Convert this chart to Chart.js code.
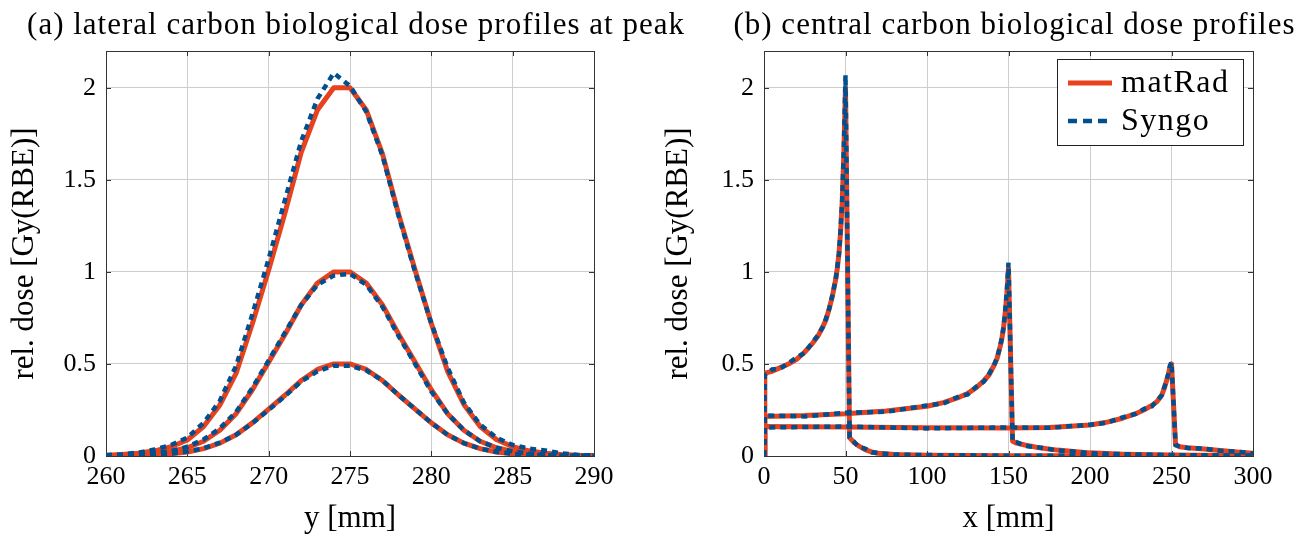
<!DOCTYPE html>
<html>
<head>
<meta charset="utf-8">
<script src="https://cdn.jsdelivr.net/npm/chart.js@4.4.0/dist/chart.umd.min.js"></script>
<style>
  html, body { margin: 0; padding: 0; background: #fff; }
  #wrap { position: relative; width: 1308px; height: 539px; overflow: hidden; }
  canvas { display: block; position: absolute; top: 0; }
  #lateralChart { left: 0; }
  #centralChart { left: 654px; }
</style>
</head>
<body>
<div id="wrap">
  <canvas id="lateralChart" width="720" height="539"></canvas>
  <canvas id="centralChart" width="654" height="539"></canvas>
</div>
<script>
// ---- lateral profiles (a), y [mm]
const latX = [260,261,262,263,264,265,266,267,268,269,270,271,272,273,274,275,276,277,278,279,280,281,282,283,284,285,286,287,288,289,290];
const latMatRad2 = [0.004,0.008,0.015,0.028,0.05,0.087,0.16,0.277,0.45,0.72,1.01,1.32,1.65,1.88,2.0,2.0,1.88,1.64,1.31,1.01,0.72,0.46,0.28,0.16,0.09,0.05,0.028,0.015,0.008,0.004,0.002];
const latMatRad1 = [0.002,0.004,0.008,0.014,0.025,0.045,0.08,0.14,0.23,0.36,0.51,0.66,0.82,0.94,1.0,1.0,0.94,0.82,0.66,0.51,0.36,0.23,0.14,0.08,0.045,0.025,0.014,0.008,0.004,0.002,0.001];
const latMatRad05 = [0.001,0.002,0.004,0.007,0.012,0.022,0.04,0.07,0.115,0.18,0.255,0.33,0.41,0.47,0.5,0.5,0.47,0.41,0.33,0.255,0.18,0.115,0.07,0.04,0.022,0.012,0.007,0.004,0.002,0.001,0.001];
const latSyngo2 = [0.004,0.01,0.018,0.035,0.06,0.1,0.18,0.3,0.49,0.77,1.07,1.39,1.71,1.94,2.08,2.01,1.87,1.63,1.3,1.0,0.72,0.48,0.29,0.17,0.1,0.06,0.04,0.03,0.015,0.006,0.003];
const latSyngo1 = [0.002,0.004,0.008,0.015,0.027,0.05,0.09,0.15,0.24,0.37,0.52,0.67,0.82,0.93,0.98,0.99,0.93,0.81,0.65,0.5,0.35,0.23,0.14,0.08,0.045,0.025,0.014,0.008,0.004,0.002,0.001];
const latSyngo05 = [0.001,0.002,0.004,0.007,0.013,0.024,0.042,0.072,0.115,0.178,0.25,0.325,0.405,0.46,0.49,0.49,0.465,0.41,0.33,0.255,0.18,0.115,0.07,0.04,0.022,0.012,0.007,0.004,0.002,0.001,0.001];
const latXTicks = [260,265,270,275,280,285,290];

// ---- central depth profiles (b), x [mm]
const depA_X = [0,0.5,5,10,15,20,25,30,33,36,38,40,42,44,45,46,47,48,49,50,52.5,55,58,62,66,70,80,100,150,200,250,300];
const depA_MatRad = [0,0.45,0.46,0.48,0.5,0.525,0.565,0.615,0.65,0.7,0.74,0.8,0.87,0.96,1.02,1.1,1.22,1.38,1.65,2.0,0.1,0.075,0.055,0.035,0.022,0.015,0.008,0.004,0.002,0.001,0.001,0.001];
const depA_Syngo = [0,0.44,0.47,0.475,0.505,0.535,0.56,0.62,0.655,0.7,0.745,0.8,0.875,0.96,1.03,1.1,1.23,1.4,1.68,2.07,0.1,0.08,0.05,0.04,0.02,0.016,0.008,0.005,0.002,0.001,0.001,0.001];
const depB_X = [0,0.5,25,50,75,100,110,120,125,130,135,138,141,143,145,146,147,148,149,150,152.5,155,160,170,180,190,200,220,250,300];
const depB_MatRad = [0,0.215,0.22,0.23,0.245,0.27,0.29,0.32,0.34,0.37,0.41,0.44,0.49,0.53,0.6,0.64,0.7,0.78,0.88,1.02,0.08,0.07,0.06,0.043,0.032,0.024,0.017,0.01,0.005,0.002];
const depB_Syngo = [0,0.22,0.215,0.235,0.24,0.275,0.285,0.325,0.335,0.375,0.405,0.445,0.49,0.535,0.6,0.645,0.7,0.79,0.9,1.05,0.08,0.075,0.055,0.045,0.03,0.025,0.015,0.01,0.005,0.002];
const depC_X = [0,0.5,50,100,150,175,200,210,220,228,233,238,241,244,246,248,249,250,252.5,255,260,270,280,290,300];
const depC_MatRad = [0,0.16,0.157,0.154,0.152,0.155,0.168,0.183,0.205,0.23,0.25,0.275,0.295,0.33,0.38,0.44,0.48,0.5,0.06,0.05,0.045,0.038,0.03,0.022,0.015];
const depC_Syngo = [0,0.155,0.16,0.15,0.155,0.153,0.17,0.18,0.21,0.228,0.255,0.27,0.3,0.33,0.385,0.445,0.49,0.51,0.06,0.052,0.043,0.04,0.028,0.024,0.014];
const depXTicks = [0,50,100,150,200,250,300];

const doseTicks = [0,0.5,1,1.5,2];
const doseMax = 2.2;

const RED = '#E8411D';
const BLUE = '#00508F';
const GRID = '#cdcdcd';
const FRAME = '#333333';
const SERIF = '"Liberation Serif", "Times New Roman", serif';

function toPoints(xs, ys) {
    return xs.map((x, i) => ({ x: x, y: ys[i] }));
}

function matRadSet(xs, ys) {
    return { label: 'matRad', data: toPoints(xs, ys), borderColor: RED, borderWidth: 5,
        pointRadius: 0, tension: 0, fill: false, borderJoinStyle: 'round', order: 2 };
}

function syngoSet(xs, ys) {
    return { label: 'Syngo', data: toPoints(xs, ys), borderColor: BLUE, borderWidth: 4.5,
        borderDash: [6, 5], borderCapStyle: 'butt', pointRadius: 0, tension: 0, fill: false, order: 1 };
}

// box + inward ticks like pgfplots
const framePlugin = {
    id: 'frame',
    beforeDatasetsDraw(chart) {
        const { ctx, chartArea: a, scales } = chart;
        ctx.save();
        ctx.strokeStyle = FRAME;
        ctx.lineWidth = 1;
        ctx.beginPath();
        scales.x.ticks.forEach(t => {
            const px = Math.round(scales.x.getPixelForValue(t.value)) + 0.5;
            ctx.moveTo(px, a.bottom); ctx.lineTo(px, a.bottom - 5);
            ctx.moveTo(px, a.top); ctx.lineTo(px, a.top + 5);
        });
        scales.y.ticks.forEach(t => {
            const py = Math.round(scales.y.getPixelForValue(t.value)) + 0.5;
            ctx.moveTo(a.left, py); ctx.lineTo(a.left + 5, py);
            ctx.moveTo(a.right, py); ctx.lineTo(a.right - 5, py);
        });
        ctx.stroke();
        ctx.strokeRect(Math.round(a.left) + 0.5, Math.round(a.top) + 0.5,
            Math.round(a.right - a.left), Math.round(a.bottom - a.top));
        ctx.restore();
    }
};

// panel title, a bit wider than the plot box
const panelTitle = {
    id: 'panelTitle',
    afterDraw(chart, args, opts) {
        const { ctx, chartArea: a } = chart;
        ctx.save();
        ctx.fillStyle = '#000';
        ctx.font = '31px ' + SERIF;
        try { ctx.letterSpacing = '1px'; } catch (e) {}
        ctx.textAlign = 'center';
        ctx.textBaseline = 'middle';
        ctx.fillText(opts.text, (a.left + a.right) / 2 + 6, 26);
        ctx.restore();
    }
};

const boxLegend = {
    id: 'boxLegend',
    afterDraw(chart, args, opts) {
        if (!opts.show) return;
        const { ctx, chartArea: a } = chart;
        const seen = {};
        const items = chart.data.datasets.filter(d => {
            if (seen[d.label]) return false;
            seen[d.label] = true;
            return true;
        });
        const w = 186, h = 86;
        const x0 = Math.round(a.right - 10 - w), y0 = Math.round(a.top + 8);
        ctx.save();
        ctx.fillStyle = '#fff';
        ctx.fillRect(x0, y0, w, h);
        ctx.strokeStyle = '#222';
        ctx.lineWidth = 1;
        ctx.strokeRect(x0 + 0.5, y0 + 0.5, w, h);
        items.forEach((d, i) => {
            const yy = y0 + 24 + i * 38;
            ctx.beginPath();
            ctx.strokeStyle = d.borderColor;
            ctx.lineWidth = d.borderWidth;
            ctx.lineCap = 'butt';
            ctx.setLineDash(d.borderDash ? [9, 6] : []);
            ctx.moveTo(x0 + 11, yy);
            ctx.lineTo(x0 + 55, yy);
            ctx.stroke();
            ctx.setLineDash([]);
            ctx.fillStyle = '#000';
            ctx.font = '32px ' + SERIF;
            try { ctx.letterSpacing = '1.5px'; } catch (e) {}
            ctx.textBaseline = 'middle';
            ctx.fillText(d.label, x0 + 64, yy + 1);
        });
        ctx.restore();
    }
};

function makeOptions(title, xMin, xMax, xTicks, xTitle, yWidth, padRight, showLegend) {
    return {
        responsive: false,
        animation: false,
        devicePixelRatio: 1,
        layout: { padding: { left: 0, right: padRight, top: 51, bottom: 0 } },
        plugins: {
            legend: { display: false },
            tooltip: { enabled: false },
            title: { display: false },
            panelTitle: { text: title },
            boxLegend: { show: showLegend }
        },
        scales: {
            x: {
                type: 'linear', min: xMin, max: xMax,
                afterBuildTicks: s => { s.ticks = xTicks.map(v => ({ value: v })); },
                afterFit: s => { s.height = 83; },
                grid: { color: GRID, lineWidth: 1, drawTicks: false },
                border: { display: false },
                ticks: { color: '#000', font: { family: SERIF, size: 26 }, padding: 6, maxRotation: 0, autoSkip: false,
                    callback: v => String(v) },
                title: { display: true, text: xTitle, color: '#000', font: { family: SERIF, size: 31 }, padding: { top: 0, bottom: 2 } }
            },
            y: {
                type: 'linear', min: 0, max: doseMax,
                afterBuildTicks: s => { s.ticks = doseTicks.map(v => ({ value: v })); },
                afterFit: s => { s.width = yWidth; },
                grid: { color: GRID, lineWidth: 1, drawTicks: false },
                border: { display: false },
                ticks: { color: '#000', font: { family: SERIF, size: 26 }, padding: 10, callback: v => String(v) },
                title: { display: true, text: 'rel. dose [Gy(RBE)]', color: '#000', font: { family: SERIF, size: 31 }, padding: { top: 6, bottom: 0 } }
            }
        }
    };
}

new Chart(document.getElementById('lateralChart'), {
    type: 'line',
    data: {
        datasets: [
            matRadSet(latX, latMatRad2),
            matRadSet(latX, latMatRad1),
            matRadSet(latX, latMatRad05),
            syngoSet(latX, latSyngo2),
            syngoSet(latX, latSyngo1),
            syngoSet(latX, latSyngo05)
        ]
    },
    options: makeOptions('(a) lateral carbon biological dose profiles at peak', 260, 290, latXTicks, 'y [mm]', 106, 126, false),
    plugins: [framePlugin, panelTitle, boxLegend]
});

new Chart(document.getElementById('centralChart'), {
    type: 'line',
    data: {
        datasets: [
            matRadSet(depA_X, depA_MatRad),
            matRadSet(depB_X, depB_MatRad),
            matRadSet(depC_X, depC_MatRad),
            syngoSet(depA_X, depA_Syngo),
            syngoSet(depB_X, depB_Syngo),
            syngoSet(depC_X, depC_Syngo)
        ]
    },
    options: makeOptions('(b) central carbon biological dose profiles', 0, 300, depXTicks, 'x [mm]', 110, 55, true),
    plugins: [framePlugin, panelTitle, boxLegend]
});
</script>
</body>
</html>
